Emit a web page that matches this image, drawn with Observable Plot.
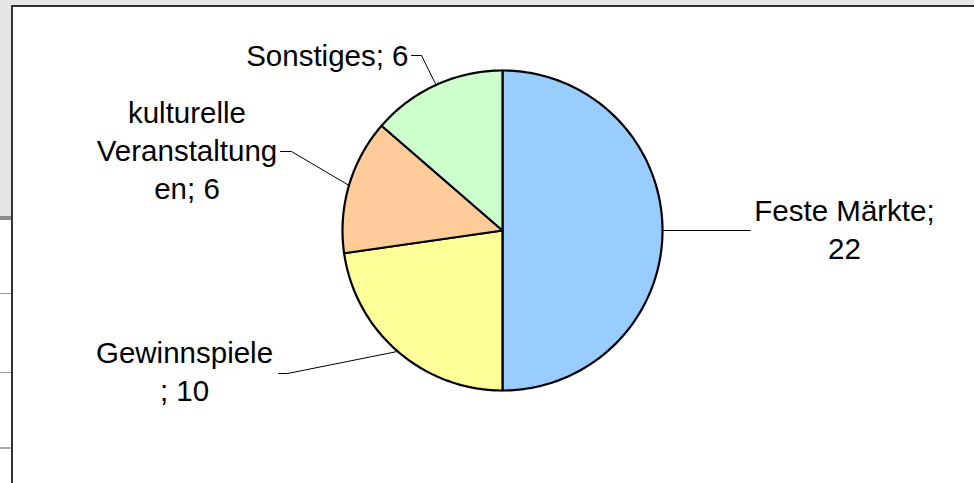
<!DOCTYPE html>
<html>
<head>
<meta charset="utf-8">
<script src="https://cdn.jsdelivr.net/npm/d3@7"></script>
<script src="https://cdn.jsdelivr.net/npm/@observablehq/plot@0.6"></script>
<style>
  html, body { margin: 0; padding: 0; background: #fff; }
  #wrap { position: relative; width: 974px; height: 483px; overflow: hidden; background: #fff; }
  .abs { position: absolute; }
  #chart { position: absolute; left: 0; top: 0; }
</style>
</head>
<body>
<div id="wrap">
  <div class="abs" style="left:0;top:0;width:974px;height:216px;background:#e6e6e6"></div>
  <div class="abs" style="left:0;top:216px;width:12px;height:4px;background:#8c8c8c"></div>
  <div class="abs" style="left:0;top:293px;width:12px;height:1px;background:#999"></div>
  <div class="abs" style="left:0;top:372px;width:12px;height:1px;background:#999"></div>
  <div class="abs" style="left:0;top:447px;width:12px;height:2px;background:#aaa"></div>
  <div class="abs" style="left:11px;top:5px;width:990px;height:500px;border-left:2px solid #333;border-top:2px solid #333;background:#fff"></div>
  <div id="chart"></div>
</div>
<script>
// ---- Data ----
const categories = ["Feste Märkte", "Gewinnspiele", "kulturelle Veranstaltungen", "Sonstiges"];
const values = [22, 10, 6, 6];
const labelTexts = ["Feste Märkte;\n22", "Gewinnspiele\n; 10", "kulturelle\nVeranstaltung\nen; 6", "Sonstiges; 6"];
const colors = ["#99ccff", "#ffff99", "#ffcc99", "#ccffcc"];

// ---- Layout (label anchors in pie-radius units, y up) ----
const labelX = [2.1375, -1.9875, -1.9719, -0.5875];
const labelY = [0.015, -0.8725, 0.5088, 1.1025];
const labelAnchor = ["middle", "middle", "middle", "end"];
const kneeX = [1.55, -1.34375, -1.31875, -0.50625];
const kneeY = [0, -0.89375, 0.49375, 1.09375];
const endX = [1.55, -1.4, -1.3875, -0.56875];
const endY = [0, -0.89375, 0.49375, 1.09375];

const rows = categories.map((name, i) => ({name, value: values[i]}));
const arcs = d3.pie().sort(null).value(d => d.value)(rows);

// slice outlines: center -> arc -> center
const slicePts = [];
arcs.forEach(a => {
  const n = Math.max(2, Math.ceil((a.endAngle - a.startAngle) / (Math.PI / 180)));
  slicePts.push({name: a.data.name, x: 0, y: 0});
  for (let k = 0; k <= n; k++) {
    const t = a.startAngle + (a.endAngle - a.startAngle) * k / n;
    slicePts.push({name: a.data.name, x: Math.sin(t), y: Math.cos(t)});
  }
  slicePts.push({name: a.data.name, x: 0, y: 0});
});

// leader lines
const leaderPts = [];
arcs.forEach((a, i) => {
  const m = (a.startAngle + a.endAngle) / 2;
  leaderPts.push({name: a.data.name, x: Math.sin(m), y: Math.cos(m)});
  leaderPts.push({name: a.data.name, x: kneeX[i], y: kneeY[i]});
  leaderPts.push({name: a.data.name, x: endX[i], y: endY[i]});
});

const labels = categories.map((name, i) => ({name, text: labelTexts[i], x: labelX[i], y: labelY[i], anchor: labelAnchor[i]}));

const textOpts = {x: "x", y: "y", text: "text", lineAnchor: "middle", lineHeight: 1.288,
  fontSize: 29.5, fontFamily: "Liberation Sans, Arial, sans-serif", fill: "black"};

const chart = Plot.plot({
  width: 974,
  height: 483,
  margin: 0,
  style: {background: "transparent", overflow: "visible"},
  x: {domain: [-1, 1], range: [342, 662], axis: null},
  y: {domain: [-1, 1], range: [390, 70], axis: null},
  color: {domain: categories, range: colors},
  marks: [
    Plot.line(leaderPts, {x: "x", y: "y", z: "name", stroke: "black", strokeWidth: 1, curve: "linear"}),
    Plot.line(slicePts, {x: "x", y: "y", z: "name", fill: "name", stroke: "black", strokeWidth: 2.2, strokeLinejoin: "round", curve: "linear"}),
    Plot.text(labels.filter(d => d.anchor === "middle"), {...textOpts, textAnchor: "middle"}),
    Plot.text(labels.filter(d => d.anchor === "end"), {...textOpts, textAnchor: "end"})
  ]
});
document.getElementById("chart").appendChild(chart);
</script>
</body>
</html>
